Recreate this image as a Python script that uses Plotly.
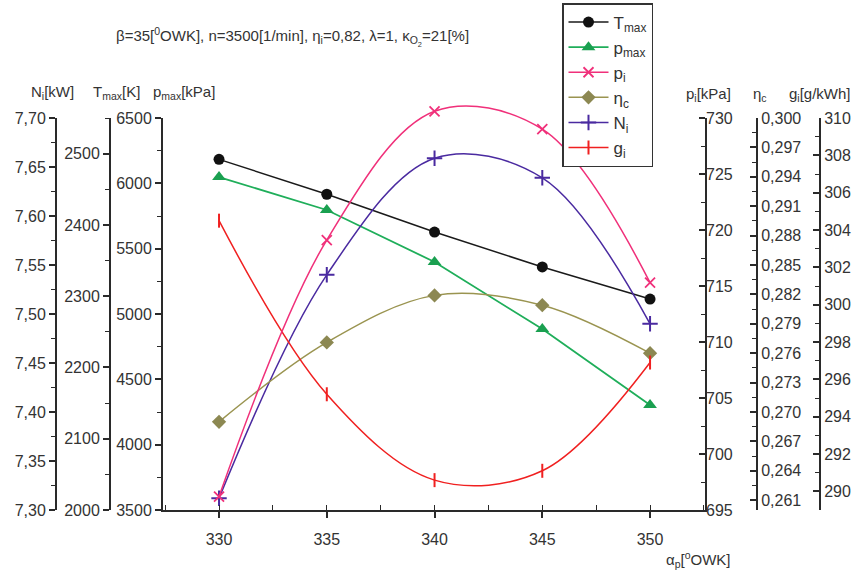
import plotly.graph_objects as go

# Injection advance angle [°OWK]
alpha = [330, 335, 340, 345, 350]

# Engine parameters at each angle
T_max = [2492, 2443, 2390, 2341, 2296]          # K
p_max = [6048, 5796, 5398, 4885, 4304]          # kPa
p_i = [696.2, 719.1, 730.6, 729.0, 715.3]       # kPa
eta_c = [0.2690, 0.2771, 0.2819, 0.2809, 0.2760]
N_i = [7.312, 7.540, 7.659, 7.639, 7.490]       # kW
g_i = [304.5, 295.2, 290.6, 291.1, 296.9]       # g/kWh

# p_i scale ticks
p_i_ticks = [695, 700, 705, 710, 715, 720, 725, 730]
p_i_minor = [697.5, 702.5, 707.5, 712.5, 717.5, 722.5, 727.5]

# Figure geometry (pixels)
W, H = 861, 576
L, R, T, B = 56, 41, 88, 66
PW, PH = W - L - R, H - T - B
PLOT_X0, PLOT_X1, PLOT_TOP = 163, 705, 118


def px(x):
    return (x - L) / PW


def py(y):
    return (H - B - y) / PH


y_dom_top = py(PLOT_TOP)
FONT = "Liberation Sans, Arial, sans-serif"
TXT = "#333333"
AX = "#2a2a2a"

fig = go.Figure()

fig.add_trace(go.Scatter(
    x=alpha, y=T_max, name="T<sub>max</sub>", yaxis="y2", mode="lines+markers",
    line=dict(color="#1a1a1a", width=1.5),
    marker=dict(symbol="circle", size=11, color="#111111"), cliponaxis=False))
fig.add_trace(go.Scatter(
    x=alpha, y=p_max, name="p<sub>max</sub>", yaxis="y", mode="lines+markers",
    line=dict(color="#1fae5a", width=1.8),
    marker=dict(symbol="triangle-up", size=12, color="#1aa050"), cliponaxis=False))
fig.add_trace(go.Scatter(
    x=alpha, y=p_i, name="p<sub>i</sub>", yaxis="y4", mode="lines+markers",
    line=dict(color="#f0307a", width=1.5, shape="spline"),
    marker=dict(symbol="x-thin", size=10, line=dict(color="#f0307a", width=1.8)),
    cliponaxis=False))
fig.add_trace(go.Scatter(
    x=alpha, y=eta_c, name="η<sub>c</sub>", yaxis="y5", mode="lines+markers",
    line=dict(color="#9a9450", width=1.5, shape="spline"),
    marker=dict(symbol="diamond", size=11, color="#8c8852"), cliponaxis=False))
fig.add_trace(go.Scatter(
    x=alpha, y=N_i, name="N<sub>i</sub>", yaxis="y3", mode="lines+markers",
    line=dict(color="#4a2aa0", width=1.5, shape="spline"),
    marker=dict(symbol="cross-thin", size=11, line=dict(color="#4a2aa0", width=2)),
    cliponaxis=False))
fig.add_trace(go.Scatter(
    x=alpha, y=g_i, name="g<sub>i</sub>", yaxis="y6", mode="lines+markers",
    line=dict(color="#f02020", width=1.5, shape="spline"),
    marker=dict(symbol="line-ns", size=10, line=dict(color="#f02020", width=2)),
    cliponaxis=False))

tickfont = dict(family=FONT, size=16, color=TXT)


def yax(rng, dtick, mdtick, side, ticks, fmt=None, **kw):
    d = dict(range=rng, dtick=dtick, side=side, ticks=ticks, ticklen=6,
             tickwidth=1.5, tickcolor=AX, showline=True, linecolor=AX,
             linewidth=2, showgrid=False, zeroline=False, tickfont=tickfont,
             minor=dict(dtick=mdtick, ticks=ticks, ticklen=4, tickwidth=1.2,
                        tickcolor=AX, showgrid=False))
    if fmt:
        d["tickformat"] = fmt
    d.update(kw)
    return d


fig.update_layout(
    width=W, height=H,
    margin=dict(l=L, r=R, t=T, b=B, pad=0, autoexpand=False),
    paper_bgcolor="white", plot_bgcolor="rgba(0,0,0,0)",
    separators=",.",
    showlegend=True,
    xaxis=dict(
        domain=[px(PLOT_X0), px(PLOT_X1)], range=[327.4, 352.55],
        tick0=330, dtick=5, ticks="outside", ticklen=6, tickwidth=1.5,
        tickcolor=AX, showline=True, linecolor=AX, linewidth=2,
        showgrid=False, zeroline=False, tickfont=tickfont, anchor="y",
        ticklabelstandoff=8,
        minor=dict(dtick=2.5, tick0=330, ticks="inside", ticklen=5,
                   tickwidth=1.2, tickcolor=AX, showgrid=False)),
    # main p_max scale; its mirrored line closes the frame on the right
    yaxis=yax([3500, 6500], 500, 250, "left", "outside",
              domain=[0, y_dom_top], anchor="x", mirror=True),
    yaxis2=yax([2000, 2550], 100, 50, "left", "outside",
               overlaying="y", anchor="free", position=px(110)),
    yaxis3=yax([7.30, 7.70], 0.05, 0.025, "left", "outside", ".2f",
               overlaying="y", anchor="free", position=0),
    # p_i scale spans a taller domain so the curve may rise above the frame
    yaxis4=dict(range=[695, 695 + 35 / y_dom_top], domain=[0, 1],
                anchor="x", side="right", showline=False, showgrid=False,
                zeroline=False, tickmode="array", tickvals=p_i_ticks,
                ticks="inside", ticklen=6, tickwidth=1.5, tickcolor=AX,
                tickfont=tickfont,
                minor=dict(tickmode="array", tickvals=p_i_minor,
                           ticks="inside", ticklen=4, tickwidth=1.2,
                           tickcolor=AX, showgrid=False)),
    yaxis5=yax([0.260, 0.300], 0.003, 0.0015, "right", "inside", ".3f",
               overlaying="y", anchor="free", position=px(757)),
    yaxis6=yax([289, 310], 2, 1, "right", "inside",
               overlaying="y", anchor="free", position=1),
    legend=dict(
        x=px(562), y=py(3), xanchor="left", yanchor="top",
        bordercolor="#333333", borderwidth=1.5, bgcolor="white",
        font=dict(family=FONT, size=17, color=TXT),
        tracegroupgap=0, itemwidth=40),
)

ann_font = dict(family=FONT, size=15, color=TXT)
labels = [
    ("β=35[<sup>0</sup>OWK], n=3500[1/min], η<sub>i</sub>=0,82, λ=1, κ<sub>O<sub>2</sub></sub>=21[%]", 292, 37),
    ("N<sub>i</sub>[kW]", 52, 92),
    ("T<sub>max</sub>[K]", 116, 92),
    ("p<sub>max</sub>[kPa]", 184, 92),
    ("p<sub>i</sub>[kPa]", 708, 94),
    ("η<sub>c</sub>", 760, 94),
    ("g<sub>i</sub>[g/kWh]", 820, 94),
    ("α<sub>p</sub>[<sup>o</sup>OWK]", 698, 559),
]
for text, x, y in labels:
    fig.add_annotation(text=text, x=px(x), y=py(y), xref="paper", yref="paper",
                       showarrow=False, font=ann_font, xanchor="center",
                       yanchor="middle")

fig.write_html("out.html")
